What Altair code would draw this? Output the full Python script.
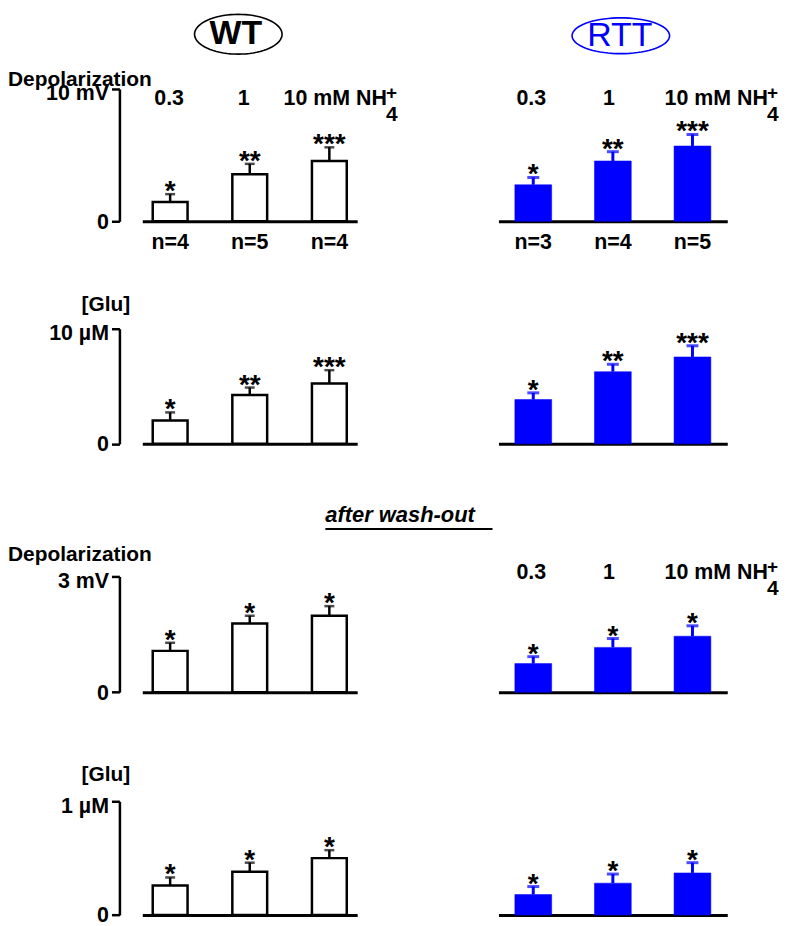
import math
import altair as alt
import pandas as pd

# ---------------- data ----------------
conc = ["0.3", "1", "10"]
conc_labels = ["0.3", "1", "10 mM NH"]
stars_inc = ["*", "**", "***"]
stars_wo = ["*", "*", "*"]
n_wt = ["n=4", "n=5", "n=4"]
n_rtt = ["n=3", "n=4", "n=5"]

wt_depol = [1.45, 3.56, 4.56]
wt_depol_err = [0.60, 0.78, 1.03]
rtt_depol = [2.76, 4.56, 5.69]
rtt_depol_err = [0.55, 0.70, 0.87]

wt_glu = [2.02, 4.24, 5.24]
wt_glu_err = [0.71, 0.65, 1.16]
rtt_glu = [3.85, 6.27, 7.55]
rtt_glu_err = [0.58, 0.64, 0.97]

wt_depol_wo = [1.07, 1.78, 1.98]
wt_depol_wo_err = [0.21, 0.20, 0.25]
rtt_depol_wo = [0.74, 1.16, 1.45]
rtt_depol_wo_err = [0.18, 0.23, 0.27]

wt_glu_wo = [0.26, 0.38, 0.50]
wt_glu_wo_err = [0.07, 0.08, 0.07]
rtt_glu_wo = [0.18, 0.28, 0.37]
rtt_glu_wo_err = [0.07, 0.08, 0.09]

# ---------------- style ----------------
FONT = "Liberation Sans"
BLUE = "#0000ff"
STYLE = {
    "WT": dict(width=216, pi=0.5625, po=0.131, fill="white", stroke="black", sw=2.5,
               ec="black", ew=2.5, cap=10, capw=2.5),
    "RTT": dict(width=230, pi=0.5375, po=0.206, fill=BLUE, stroke=BLUE, sw=0.5,
                ec=BLUE, ew=3, cap=12, capw=3),
}


def make_df(vals, errs, stars, nl=None):
    d = pd.DataFrame({"c": conc, "v": vals, "e": errs, "s": stars})
    d["hi"] = d["v"] + d["e"]
    if nl is not None:
        d["n"] = nl
    return d


def txt(text, x, y, size=21, color="black", align="left", baseline="alphabetic",
        style="normal", weight="bold", dx=0, dy=0):
    return alt.Chart(pd.DataFrame({"t": [text]})).mark_text(
        font=FONT, fontSize=size, fontWeight=weight, fontStyle=style, color=color,
        align=align, baseline=baseline, dx=dx, dy=dy
    ).encode(x=alt.value(x), y=alt.value(y), text="t:N")


def panel(df, grp, ymax, ylab, height, extra=None, conc_y=None, conc_dx=None, sup_dx=None):
    st = STYLE[grp]
    X = alt.X("c:N", sort=conc,
              scale=alt.Scale(domain=conc, paddingInner=st["pi"], paddingOuter=st["po"]),
              axis=alt.Axis(title=None, labels=False, ticks=False, domain=True,
                            domainColor="black", domainWidth=3))
    if grp == "WT":
        yaxis = alt.Axis(values=[0, ymax], labelExpr=f"datum.value == 0 ? '0' : '{ylab}'",
                         title=None, offset=23, grid=False, domainColor="black",
                         domainWidth=2.5, tickColor="black", tickWidth=2.5, tickSize=8,
                         labelFont=FONT, labelFontSize=21.5, labelFontWeight="bold",
                         labelColor="black", labelPadding=3, labelBaseline="middle",
                         labelOffset={"condition": {"test": "datum.value == 0", "value": 1},
                                      "value": 5},
                         labelFlush=False)
    else:
        yaxis = None
    ysc = alt.Scale(domain=[0, ymax], nice=False, zero=True)
    base = alt.Chart(df)
    bars = base.mark_bar(fill=st["fill"], stroke=st["stroke"], strokeWidth=st["sw"]).encode(
        x=X, y=alt.Y("v:Q", scale=ysc, axis=yaxis))
    err = base.mark_rule(color=st["ec"], strokeWidth=st["ew"]).encode(
        x=X, y=alt.Y("v:Q", scale=ysc, axis=yaxis), y2="hi:Q")
    cap = base.mark_tick(color=st["ec"], thickness=st["capw"], size=st["cap"]).encode(
        x=X, y=alt.Y("hi:Q", scale=ysc, axis=yaxis))
    stars = base.mark_text(font=FONT, fontSize=28, fontWeight="bold", color="black",
                           baseline="alphabetic", dy=6).encode(
        x=X, y=alt.Y("hi:Q", scale=ysc, axis=yaxis), text="s:N")
    layers = [bars, err, cap, stars]
    if "n" in df.columns:
        layers.append(base.mark_text(font=FONT, fontSize=21.5, fontWeight="bold", color="black",
                                     baseline="alphabetic").encode(
            x=X, y=alt.value(height + 28), text="n:N"))
    if conc_y is not None:
        cdf = pd.DataFrame({"c": conc, "lab": conc_labels})
        for i in range(3):
            align = "center" if i < 2 else "left"
            layers.append(alt.Chart(cdf.iloc[[i]]).mark_text(
                font=FONT, fontSize=21.5, fontWeight="bold", color="black",
                baseline="alphabetic", align=align, dx=conc_dx[i]).encode(
                x=X, y=alt.value(conc_y), text="lab:N"))
        sdf = pd.DataFrame({"c": ["10"], "p": ["+"], "q": ["4"]})
        layers.append(alt.Chart(sdf).mark_text(
            font=FONT, fontSize=19, fontWeight="bold", color="black",
            baseline="alphabetic", align="left", dx=sup_dx, dy=-6).encode(
            x=X, y=alt.value(conc_y), text="p:N"))
        layers.append(alt.Chart(sdf).mark_text(
            font=FONT, fontSize=21, fontWeight="bold", color="black",
            baseline="alphabetic", align="left", dx=sup_dx, dy=16).encode(
            x=X, y=alt.value(conc_y), text="q:N"))
    if extra:
        layers.extend(extra)
    return alt.layer(*layers).properties(width=st["width"], height=height)


def ellipse(cx, cy, w, h, color):
    ry = h / w
    pts = []
    for k in range(72):
        a = 2 * math.pi * k / 72
        pts.append(f"{math.cos(a):.4f} {ry * math.sin(a):.4f}")
    path = "M " + " L ".join(pts) + " Z"
    return alt.Chart(pd.DataFrame({"k": [0]})).mark_point(
        shape=path, size=w * w, filled=False, color=color, strokeWidth=1.6, opacity=1
    ).encode(x=alt.value(cx), y=alt.value(cy))


def spacer(h):
    return alt.Chart(pd.DataFrame({"t": [""]})).mark_text().encode(
        x=alt.value(0), y=alt.value(0), text="t:N").properties(width=1, height=h)


H1, H2, H3, H4 = 133, 115.7, 116.3, 114.3

p1w = panel(make_df(wt_depol, wt_depol_err, stars_inc, n_wt), "WT", 10, "10 mV", H1,
            extra=[ellipse(96.5, -55, 88, 40, "black"),
                   txt("WT", 94, -56, size=34, align="center", baseline="middle", dy=1),
                   txt("Depolarization", -135, -3)],
            conc_y=16, conc_dx=[-1, -6, -46], sup_dx=57)
p1r = panel(make_df(rtt_depol, rtt_depol_err, stars_inc, n_rtt), "RTT", 10, "", H1,
            extra=[ellipse(123, -53.5, 98, 36, BLUE),
                   txt("RTT", 122, -54, size=34, color=BLUE, align="center",
                       baseline="middle", weight="normal", dy=1)],
            conc_y=16, conc_dx=[-2, -4, -28], sup_dx=75)
p2w = panel(make_df(wt_glu, wt_glu_err, stars_inc), "WT", 10, "10 µM", H2,
            extra=[txt("[Glu]", -61, -18)])
p2r = panel(make_df(rtt_glu, rtt_glu_err, stars_inc), "RTT", 10, "", H2)
p3w = panel(make_df(wt_depol_wo, wt_depol_wo_err, stars_wo), "WT", 3, "3 mV", H3,
            extra=[txt("Depolarization", -135, -16),
                   txt("after wash-out", 184, -55, size=22, style="italic"),
                   alt.Chart(pd.DataFrame({"k": [0]})).mark_rule(color="black", strokeWidth=2).encode(
                       x=alt.value(184), x2=alt.value(352), y=alt.value(-47.7))])
p3r = panel(make_df(rtt_depol_wo, rtt_depol_wo_err, stars_wo), "RTT", 3, "", H3,
            conc_y=3, conc_dx=[-2, -4, -28], sup_dx=75)
p4w = panel(make_df(wt_glu_wo, wt_glu_wo_err, stars_wo), "WT", 1, "1 µM", H4,
            extra=[txt("[Glu]", -61, -20)])
p4r = panel(make_df(rtt_glu_wo, rtt_glu_wo_err, stars_wo), "RTT", 1, "", H4)

chart = alt.concat(
    p1w, p1r, spacer(107.7), spacer(107.7),
    p2w, p2r, spacer(132.7), spacer(132.7),
    p3w, p3r, spacer(108.4), spacer(108.4),
    p4w, p4r,
    columns=2, spacing={"row": 0, "column": 142}, bounds="flush", align="each",
).properties(
    padding={"left": 0, "top": 0, "right": 0, "bottom": 0}
).configure_view(stroke=None)

chart.save("out.html", embed_options={"renderer": "svg", "actions": False})
